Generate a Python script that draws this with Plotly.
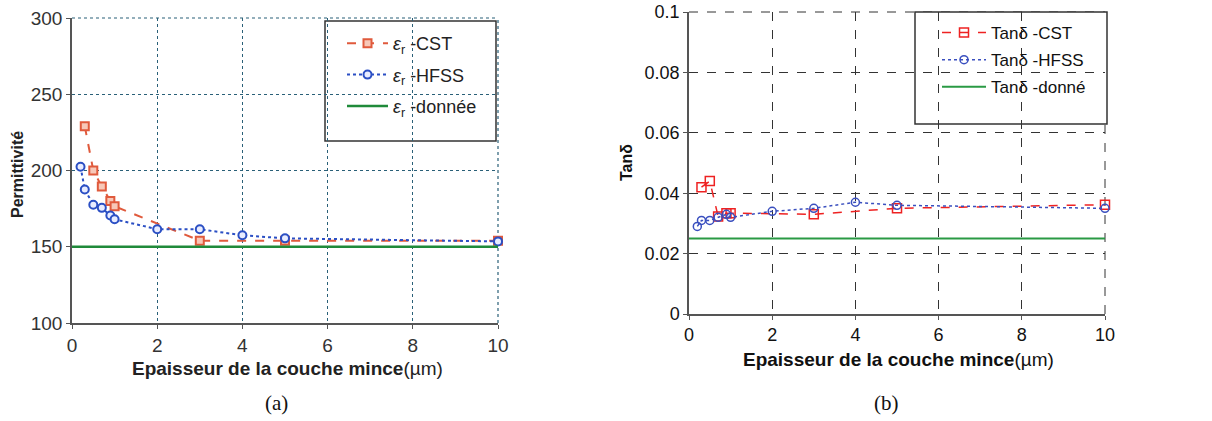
import plotly.graph_objects as go

# ---- data (a) permittivity ----
x_cst_a = [0.3, 0.5, 0.7, 0.9, 1.0, 3, 5, 10]
y_cst_a = [229, 200, 189.5, 180, 176.5, 154, 154, 154]
x_hfss_a = [0.2, 0.3, 0.5, 0.7, 0.9, 1.0, 2, 3, 4, 5, 10]
y_hfss_a = [202.5, 187.5, 177.5, 175.5, 170.5, 168, 161.5, 161.5, 157.5, 155.5, 153.5]
x_given = [0, 10]
y_given_a = [150, 150]

# ---- data (b) tan delta ----
x_cst_b = [0.3, 0.5, 0.7, 0.9, 1.0, 3, 5, 10]
y_cst_b = [0.042, 0.044, 0.0323, 0.0334, 0.0334, 0.033, 0.035, 0.0362]
x_hfss_b = [0.2, 0.3, 0.5, 0.7, 0.9, 1.0, 2, 3, 4, 5, 10]
y_hfss_b = [0.029, 0.031, 0.031, 0.032, 0.033, 0.032, 0.034, 0.035, 0.037, 0.036, 0.035]
y_given_b = [0.025, 0.025]

x_ticks = [0, 2, 4, 6, 8, 10]
y_ticks_a = [100, 150, 200, 250, 300]
y_ticks_b = [0, 0.02, 0.04, 0.06, 0.08, 0.1]
y_ticktext_b = ["0", "0.02", "0.04", "0.06", "0.08", "0.1"]

FONT = "Arial, Liberation Sans, sans-serif"
W, H = 1212, 421
OFF = 0  # page body margin removed via post_script

def px(xp):
    return (xp - OFF) / W

def py(yp):
    return 1 - (yp - OFF) / H

GRID_A = "#2a6078"
GRID_B = "#333"

fig = go.Figure()

# (a)
fig.add_trace(go.Scatter(x=x_cst_a, y=y_cst_a, mode="lines+markers",
    name="<i>ε</i><sub>r</sub> -CST", xaxis="x", yaxis="y", legend="legend", legendgroup="a1",
    line=dict(color="#e05a3c", dash="dash", width=2),
    marker=dict(symbol="square", size=8, color="#f7c8b8", line=dict(color="#e05a3c", width=2)),
    cliponaxis=False))
fig.add_trace(go.Scatter(x=x_hfss_a, y=y_hfss_a, mode="lines+markers",
    name="<i>ε</i><sub>r</sub> -HFSS", xaxis="x", yaxis="y", legend="legend", legendgroup="a2",
    line=dict(color="#2b4fc4", dash="dot", width=2),
    marker=dict(symbol="circle", size=8, color="#e8ecff", line=dict(color="#2b4fc4", width=2)),
    cliponaxis=False))
fig.add_trace(go.Scatter(x=x_given, y=y_given_a, mode="lines",
    name="<i>ε</i><sub>r</sub> -donnée", xaxis="x", yaxis="y", legend="legend", legendgroup="a3",
    line=dict(color="#1f8a3a", width=2.5)))

# (b)
fig.add_trace(go.Scatter(x=x_cst_b, y=y_cst_b, mode="lines+markers",
    name="Tanδ -CST", xaxis="x2", yaxis="y2", legend="legend2", legendgroup="b1",
    line=dict(color="#ee2222", dash="dash", width=1.5),
    marker=dict(symbol="square-open", size=9, color="#ee2222", line=dict(width=1.5)),
    cliponaxis=False))
fig.add_trace(go.Scatter(x=x_hfss_b, y=y_hfss_b, mode="lines+markers",
    name="Tanδ -HFSS", xaxis="x2", yaxis="y2", legend="legend2", legendgroup="b2",
    line=dict(color="#3a4fbf", dash="dot", width=1.5),
    marker=dict(symbol="circle-open", size=8, color="#3a4fbf", line=dict(width=1.5)),
    cliponaxis=False))
fig.add_trace(go.Scatter(x=x_given, y=y_given_b, mode="lines",
    name="Tanδ -donné", xaxis="x2", yaxis="y2", legend="legend2", legendgroup="b3",
    line=dict(color="#2a9a44", width=2)))

axis_common = dict(showline=True, linewidth=1.5, ticks="outside", ticklen=4,
                   zeroline=False, mirror=False, automargin=False, ticklabeloverflow="allow")

fig.update_layout(
    width=W, height=H, margin=dict(l=0, r=0, t=0, b=0),
    paper_bgcolor="white", plot_bgcolor="white",
    font=dict(family=FONT, color="#222"),
    xaxis=dict(domain=[px(72), px(498)], range=[0, 10], tickvals=x_ticks, anchor="y",
               gridcolor=GRID_A, griddash="dot", gridwidth=1.2, linecolor="#555", tickcolor="#555",
               tickfont=dict(size=19, color="#333"), **axis_common),
    yaxis=dict(domain=[py(323), py(18)], range=[100, 300], tickvals=y_ticks_a, anchor="x",
               gridcolor=GRID_A, griddash="dot", gridwidth=1.2, linecolor="#555", tickcolor="#555",
               tickfont=dict(size=19, color="#333"), **axis_common),
    xaxis2=dict(domain=[px(689), px(1105)], range=[0, 10], tickvals=x_ticks, anchor="y2",
                gridcolor=GRID_B, griddash="dash", gridwidth=1, linecolor="#555", tickcolor="#555",
                tickfont=dict(size=18, color="#111"), **axis_common),
    yaxis2=dict(domain=[py(314), py(12)], range=[0, 0.1], tickvals=y_ticks_b, ticktext=y_ticktext_b,
                anchor="x2", gridcolor=GRID_B, griddash="dash", gridwidth=1, linecolor="#555", tickcolor="#555",
                tickfont=dict(size=18, color="#111"), **axis_common),
    legend=dict(x=px(342), y=py(25), xanchor="left", yanchor="top", bgcolor="rgba(0,0,0,0)",
                borderwidth=0, font=dict(size=18, color="#222"), itemwidth=41,
                tracegroupgap=5),
    legend2=dict(x=px(937), y=py(15), xanchor="left", yanchor="top", bgcolor="rgba(0,0,0,0)",
                 borderwidth=0, font=dict(size=17, color="#111"), itemwidth=44,
                 tracegroupgap=2),
    showlegend=True,
)

# gridlines on the outer (top/right) edges, which plotly omits
fig.add_shape(type="line", xref="x domain", yref="y domain", x0=0, x1=1, y0=1, y1=1,
              line=dict(color=GRID_A, width=1.2, dash="dot"), layer="below")
fig.add_shape(type="line", xref="x domain", yref="y domain", x0=1, x1=1, y0=0, y1=1,
              line=dict(color=GRID_A, width=1.2, dash="dot"), layer="below")
fig.add_shape(type="line", xref="x2 domain", yref="y2 domain", x0=0, x1=1, y0=1, y1=1,
              line=dict(color=GRID_B, width=1, dash="dash"), layer="below")
fig.add_shape(type="line", xref="x2 domain", yref="y2 domain", x0=1, x1=1, y0=0, y1=1,
              line=dict(color=GRID_B, width=1, dash="dash"), layer="below")

# legend boxes
fig.add_shape(type="rect", xref="paper", yref="paper", x0=px(325), x1=px(496), y0=py(141), y1=py(21),
              line=dict(color="#333", width=1.5), fillcolor="white", layer="below")
fig.add_shape(type="rect", xref="paper", yref="paper", x0=px(915), x1=px(1107), y0=py(124), y1=py(12),
              line=dict(color="#333", width=1.5), fillcolor="white", layer="below")

# axis titles and captions
def label(x, y, text, size, color="#222", angle=0, family=None):
    f = dict(size=size, color=color)
    if family:
        f["family"] = family
    fig.add_annotation(x=px(x), y=py(y), xref="paper", yref="paper", showarrow=False,
                       xanchor="center", yanchor="middle", textangle=angle, text=text, font=f)

label(287, 368, "<b>Epaisseur de la couche mince</b>(µm)", 19, "#222")
label(17, 175, "<b>Permittivité</b>", 16, "#222", angle=-90)
label(898, 359, "<b>Epaisseur de la couche mince</b>(µm)", 19, "#111")
label(627, 163, "<b>Tanδ</b>", 16, "#111", angle=-90)
label(276, 403, "(a)", 21, "#111", family="Liberation Serif, Times New Roman, serif")
label(886, 403, "(b)", 21, "#111", family="Liberation Serif, Times New Roman, serif")

fig.write_html("out.html", config={"displayModeBar": False},
               post_script="document.body.style.margin='0';")
